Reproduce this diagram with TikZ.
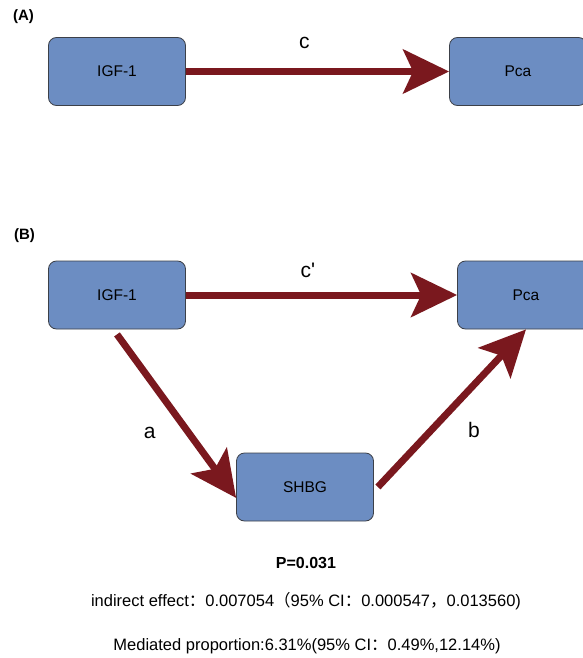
\documentclass[tikz,border=0pt]{standalone}
\usepackage{fontspec}
\setmainfont{Liberation Sans}
\newfontfamily\cjkfont{Noto Sans CJK SC}
\usetikzlibrary{arrows.meta}
\definecolor{boxblue}{RGB}{108,141,194}
\definecolor{boxline}{RGB}{60,64,72}
\definecolor{pathred}{RGB}{122,24,30}

\begin{document}
\begin{tikzpicture}[x=1pt, y=-1pt,
	varbox/.style={draw=boxline, fill=boxblue, rounded corners=8pt, line width=0.8pt,
		minimum width=137pt, minimum height=68pt, inner sep=0pt, font=\fontsize{15.5}{18}\selectfont},
	path arrow/.style={draw=pathred, line width=7pt, -{Stealth[length=46pt, width=44pt, inset=10pt]}},
	path label/.style={font=\fontsize{21}{25}\selectfont},
	panel label/.style={font=\bfseries\fontsize{15}{18}\selectfont},
	result/.style={font=\fontsize{16.5}{20}\selectfont}]

	\useasboundingbox (0,0) rectangle (582,658);

	% panel A: total effect
	\node[panel label] (A) at (23.5,17) {(A)};
	\node[varbox] (igfA) at (117,71.5) {IGF-1};
	\node[varbox] (pcaA) at (518,71.5) {Pca};
	\draw[path arrow] (igfA.east) -- node[path label, pos=0.45, above=16pt] {c} (pcaA.west);

	% panel B: mediation through SHBG
	\node[panel label] (B) at (24.5,236) {(B)};
	\node[varbox] (igfB) at (117,295) {IGF-1};
	\node[varbox] (pcaB) at (526,295) {Pca};
	\node[varbox] (shbg) at (305,487) {SHBG};
	\draw[path arrow] (igfB.east) -- node[path label, pos=0.45, above=10pt] {c\textquotesingle} (pcaB.west);
	\draw[path arrow] ([yshift=-5pt]igfB.south) -- node[path label, pos=0.6, left=26pt] {a} (shbg.189);
	\draw[path arrow] ([xshift=4pt]shbg.east) -- node[path label, pos=0.36, right=30pt] {b} (pcaB.south);

	% results
	\node[font=\bfseries\fontsize{16}{19}\selectfont] (p) at (306,563) {P=0.031};
	\node[result] (indirect) at (306,601) {indirect effect{\cjkfont ：}0.007054{\cjkfont （}95\% CI{\cjkfont ：}0.000547{\cjkfont ，}0.013560)};
	\node[result] (mediated) at (307,646) {Mediated proportion:6.31\%(95\% CI{\cjkfont ：}0.49\%,12.14\%)};
\end{tikzpicture}
\end{document}
